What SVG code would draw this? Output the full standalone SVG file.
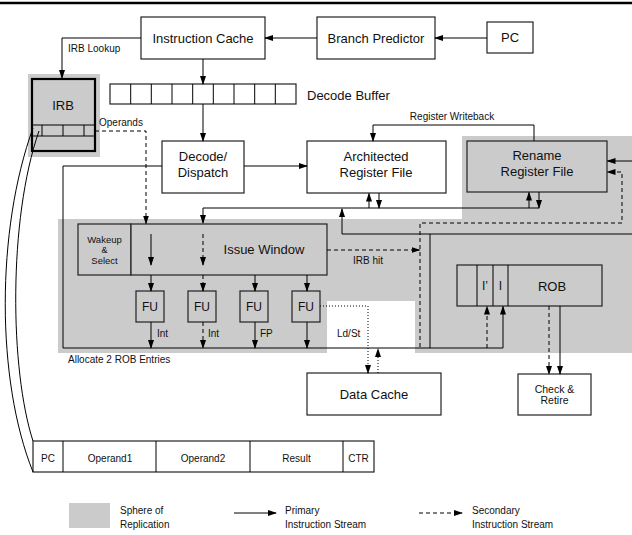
<svg xmlns="http://www.w3.org/2000/svg" width="632" height="535" viewBox="0 0 632 535">
  <style>
    .box { fill: #ffffff; stroke: #222; stroke-width: 1.2; }
    .gbox { fill: #cbcbcb; stroke: #222; stroke-width: 1.2; }
    .sphere { fill: #cbcbcb; stroke: none; }
    .ln { fill: none; stroke: #000; stroke-width: 1; }
    .dash { fill: none; stroke: #000; stroke-width: 1; stroke-dasharray: 4 3; }
    .dot { fill: none; stroke: #000; stroke-width: 1; stroke-dasharray: 1 2; }
    text { font-family: "Liberation Sans", Arial, sans-serif; fill: #111; }
    .t13 { font-size: 13px; text-anchor: middle; }
    .t12 { font-size: 12px; text-anchor: middle; }
    .t10 { font-size: 10px; }
    .c { text-anchor: middle; }
  </style>
  <defs>
    <marker id="ah" markerWidth="9" markerHeight="6" refX="8" refY="3" orient="auto" markerUnits="userSpaceOnUse">
      <path d="M0,0 L9,3 L0,6 z" fill="#000"/>
    </marker>
  </defs>

  <!-- top rule -->
  <line x1="0" y1="3" x2="632" y2="3" stroke="#000" stroke-width="2.5"/>

  <!-- spheres of replication -->
  <rect class="sphere" x="28" y="74" width="72" height="83"/>
  <path class="sphere" d="M58,219 H462 V136 H632 V353 H415 V301 H327 V353 H58 Z"/>

  <g id="instruction-cache">
    <rect class="box" x="141" y="17" width="124" height="42"/>
    <text class="t13" x="203" y="43">Instruction Cache</text>
  </g>
  <g id="branch-predictor">
    <rect class="box" x="317" y="17" width="118" height="42"/>
    <text class="t13" x="376" y="43">Branch Predictor</text>
  </g>
  <g id="pc">
    <rect class="box" x="487" y="22" width="46" height="31"/>
    <text class="t13" x="510" y="42">PC</text>
  </g>

  <g id="irb">
    <rect x="32" y="79" width="63" height="72" fill="#cbcbcb" stroke="#000" stroke-width="2.2"/>
    <line x1="32" y1="125" x2="95" y2="125" stroke="#000" stroke-width="1"/>
    <line x1="32" y1="136" x2="95" y2="136" stroke="#000" stroke-width="1"/>
    <line x1="42" y1="125" x2="42" y2="136" stroke="#000" stroke-width="1"/>
    <line x1="63" y1="125" x2="63" y2="136" stroke="#000" stroke-width="1"/>
    <line x1="84" y1="125" x2="84" y2="136" stroke="#000" stroke-width="1"/>
    <text class="t13" x="63" y="110">IRB</text>
  </g>

  <g id="decode-buffer">
    <rect class="box" x="110" y="84" width="186" height="20"/>
    <path class="ln" d="M130.7,84 V104 M151.3,84 V104 M172,84 V104 M192.7,84 V104 M213.3,84 V104 M234,84 V104 M254.7,84 V104 M275.3,84 V104"/>
    <text x="307" y="100" font-size="13">Decode Buffer</text>
  </g>

  <g id="decode-dispatch">
    <rect class="box" x="162" y="141" width="82" height="52"/>
    <text class="t13" x="203" y="161">Decode/</text>
    <text class="t13" x="203" y="177">Dispatch</text>
  </g>
  <g id="architected-register-file">
    <rect class="box" x="307" y="141" width="139" height="52"/>
    <text class="t13" x="376" y="161">Architected</text>
    <text class="t13" x="376" y="177">Register File</text>
  </g>
  <g id="rename-register-file">
    <rect class="gbox" x="467" y="141" width="140" height="51"/>
    <text class="t13" x="537" y="160">Rename</text>
    <text class="t13" x="537" y="176">Register File</text>
  </g>

  <g id="issue-window">
    <rect class="gbox" x="78" y="224" width="53" height="51"/>
    <rect class="gbox" x="131" y="224" width="196" height="51"/>
    <text class="c" x="104.5" y="243" font-size="9.5">Wakeup</text>
    <text class="c" x="104.5" y="253" font-size="9">&amp;</text>
    <text class="c" x="104.5" y="264" font-size="9.5">Select</text>
    <text class="t13" x="264" y="254">Issue Window</text>
  </g>

  <g id="fu-int-1">
    <rect class="gbox" x="136" y="291" width="28" height="31"/>
    <text class="t12" x="150" y="311">FU</text>
  </g>
  <g id="fu-int-2">
    <rect class="gbox" x="188" y="291" width="28" height="31"/>
    <text class="t12" x="202" y="311">FU</text>
  </g>
  <g id="fu-fp">
    <rect class="gbox" x="240" y="291" width="28" height="31"/>
    <text class="t12" x="254" y="311">FU</text>
  </g>
  <g id="fu-ldst">
    <rect class="gbox" x="292" y="291" width="28" height="31"/>
    <text class="t12" x="306" y="311">FU</text>
  </g>

  <g id="rob">
    <rect class="gbox" x="457" y="265" width="145" height="41"/>
    <path class="ln" d="M477,265 V306 M493,265 V306 M508,265 V306"/>
    <text class="t12" x="485" y="290">I’</text>
    <text class="t12" x="500.5" y="290">I</text>
    <text class="t13" x="552" y="291">ROB</text>
  </g>

  <g id="data-cache">
    <rect class="box" x="307" y="373" width="134" height="42"/>
    <text class="t13" x="374" y="399">Data Cache</text>
  </g>
  <g id="check-retire">
    <rect class="box" x="518" y="374" width="73" height="41"/>
    <text class="c" x="554.5" y="393" font-size="10.5">Check &amp;</text>
    <text class="c" x="554.5" y="404" font-size="10.5">Retire</text>
  </g>

  <g id="irb-entry">
    <rect class="box" x="33" y="441" width="341" height="31"/>
    <path class="ln" d="M63,441 V472 M156,441 V472 M250,441 V472 M343,441 V472"/>
    <text class="c t10" x="48" y="462">PC</text>
    <text class="c t10" x="110" y="462">Operand1</text>
    <text class="c t10" x="203" y="462">Operand2</text>
    <text class="c t10" x="296.5" y="462">Result</text>
    <text class="c t10" x="358.5" y="462">CTR</text>
  </g>

  <g id="connectors">
    <!-- fetch path -->
    <line class="ln" x1="487" y1="38" x2="435" y2="38" marker-end="url(#ah)"/>
    <line class="ln" x1="317" y1="38" x2="265" y2="38" marker-end="url(#ah)"/>
    <path class="ln" d="M141,38 H62 V78" marker-end="url(#ah)"/>
    <line class="ln" x1="203" y1="59" x2="203" y2="84" marker-end="url(#ah)"/>
    <line class="ln" x1="203" y1="104" x2="203" y2="141" marker-end="url(#ah)"/>
    <line class="ln" x1="244" y1="166" x2="307" y2="166" marker-end="url(#ah)"/>
    <path class="ln" d="M162,166 H63 V348 H503 V306.5" marker-end="url(#ah)"/>
    <path class="dash" d="M487,348 V306.5" marker-end="url(#ah)"/>

    <!-- register writeback -->
    <path class="ln" d="M534,141 V125 H373 V141" marker-end="url(#ah)"/>

    <!-- register bus -->
    <path class="ln" d="M539,208 H203 V223" marker-end="url(#ah)"/>
    <line class="ln" x1="369" y1="208" x2="369" y2="193.5" marker-end="url(#ah)"/>
    <line class="ln" x1="379" y1="193" x2="379" y2="208" marker-end="url(#ah)"/>
    <line class="ln" x1="529" y1="208" x2="529" y2="192.5" marker-end="url(#ah)"/>
    <line class="ln" x1="539" y1="192" x2="539" y2="208" marker-end="url(#ah)"/>
    <path class="ln" d="M632,234 H342 V209" marker-end="url(#ah)"/>
    <line class="ln" x1="430" y1="234" x2="430" y2="348"/>
    <line class="ln" x1="632" y1="161" x2="607.5" y2="161" marker-end="url(#ah)"/>
    <path class="dash" d="M420,347 V223 H622 V172 H607.5" marker-end="url(#ah)"/>
    <line class="dash" x1="327" y1="250" x2="419.5" y2="250" marker-end="url(#ah)"/>

    <!-- operands from IRB -->
    <path class="dash" d="M95,131 H146 V223.5" marker-end="url(#ah)"/>

    <!-- issue window to functional units -->
    <line class="ln" x1="151" y1="234" x2="151" y2="265" marker-end="url(#ah)"/>
    <line class="dash" x1="203" y1="234" x2="203" y2="265" marker-end="url(#ah)"/>
    <line class="ln" x1="151" y1="275" x2="151" y2="291" marker-end="url(#ah)"/>
    <line class="dash" x1="203" y1="275" x2="203" y2="291" marker-end="url(#ah)"/>
    <line class="ln" x1="255" y1="275" x2="255" y2="291" marker-end="url(#ah)"/>
    <line class="ln" x1="307" y1="275" x2="307" y2="291" marker-end="url(#ah)"/>
    <line class="ln" x1="151" y1="322" x2="151" y2="348" marker-end="url(#ah)"/>
    <line class="dash" x1="203" y1="322" x2="203" y2="348" marker-end="url(#ah)"/>
    <line class="ln" x1="255" y1="322" x2="255" y2="348" marker-end="url(#ah)"/>
    <line class="ln" x1="307" y1="322" x2="307" y2="348" marker-end="url(#ah)"/>

    <!-- load/store -->
    <path class="dot" d="M320,306 H368 V373" marker-end="url(#ah)"/>
    <line class="dot" x1="378" y1="373" x2="378" y2="349" marker-end="url(#ah)"/>

    <!-- retire -->
    <line class="dash" x1="549" y1="306" x2="549" y2="374" marker-end="url(#ah)"/>
    <line class="ln" x1="560" y1="306" x2="560" y2="374" marker-end="url(#ah)"/>

    <!-- IRB entry fields -->
    <path class="ln" d="M33,128 C-4,230 -4,380 33,472"/>
    <path class="ln" d="M39,131 C8,220 10,370 33,441"/>
  </g>

  <!-- labels -->
  <g id="labels">
    <text class="t10" x="68" y="52">IRB Lookup</text>
    <text class="t10" x="99" y="126">Operands</text>
    <text class="t10 c" x="452" y="120">Register Writeback</text>
    <text class="t10" x="353" y="264">IRB hit</text>
    <text class="t10" x="157" y="337">Int</text>
    <text class="t10" x="208" y="337">Int</text>
    <text class="t10" x="260" y="337">FP</text>
    <text class="t10" x="337" y="337">Ld/St</text>
    <text class="t10" x="68" y="363">Allocate 2 ROB Entries</text>
  </g>

  <!-- legend -->
  <g id="legend">
    <rect class="sphere" x="69" y="503" width="41" height="25"/>
    <text class="t10" x="120" y="514">Sphere of</text>
    <text class="t10" x="120" y="528">Replication</text>
    <line class="ln" x1="234" y1="513" x2="276" y2="513" marker-end="url(#ah)"/>
    <text class="t10" x="285" y="514">Primary</text>
    <text class="t10" x="285" y="528">Instruction Stream</text>
    <line class="dash" x1="419" y1="513" x2="462" y2="513" marker-end="url(#ah)"/>
    <text class="t10" x="472" y="514">Secondary</text>
    <text class="t10" x="472" y="528">Instruction Stream</text>
  </g>
</svg>
